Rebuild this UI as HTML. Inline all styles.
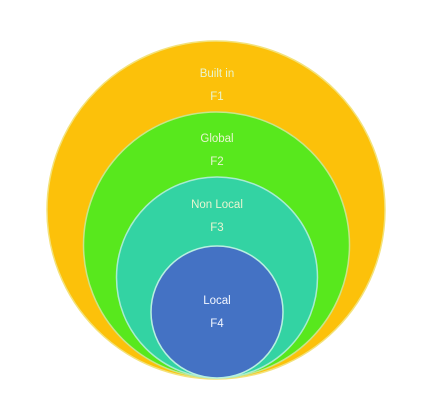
<!DOCTYPE html>
<html><head><style>
body{margin:0;background:#fff;width:431px;height:404px;overflow:hidden}
</style></head><body>
<svg width="431" height="404" xmlns="http://www.w3.org/2000/svg" font-family="Liberation Sans, sans-serif" font-size="11.5" text-anchor="middle">
<circle cx="216" cy="210" r="169" fill="#fcc10a" stroke="#f3e27a" stroke-width="1.5"/>
<circle cx="216.5" cy="245" r="133" fill="#58e81d" stroke="#c8e58a" stroke-width="1.5"/>
<circle cx="217" cy="277.5" r="100.5" fill="#33d3a3" stroke="#a8ecd0" stroke-width="1.5"/>
<circle cx="217" cy="312" r="66" fill="#4472c4" stroke="#b8f0e0" stroke-width="1.5"/>
<g fill="#e8f5d0">
<text x="217" y="77">Built in</text>
<text x="217" y="100">F1</text>
<text x="217" y="142">Global</text>
<text x="217" y="165">F2</text>
<text x="217" y="208">Non Local</text>
<text x="217" y="231">F3</text>
</g>
<g fill="#f2f6ff">
<text x="217" y="304">Local</text>
<text x="217" y="327">F4</text>
</g>
</svg>
</body></html>
